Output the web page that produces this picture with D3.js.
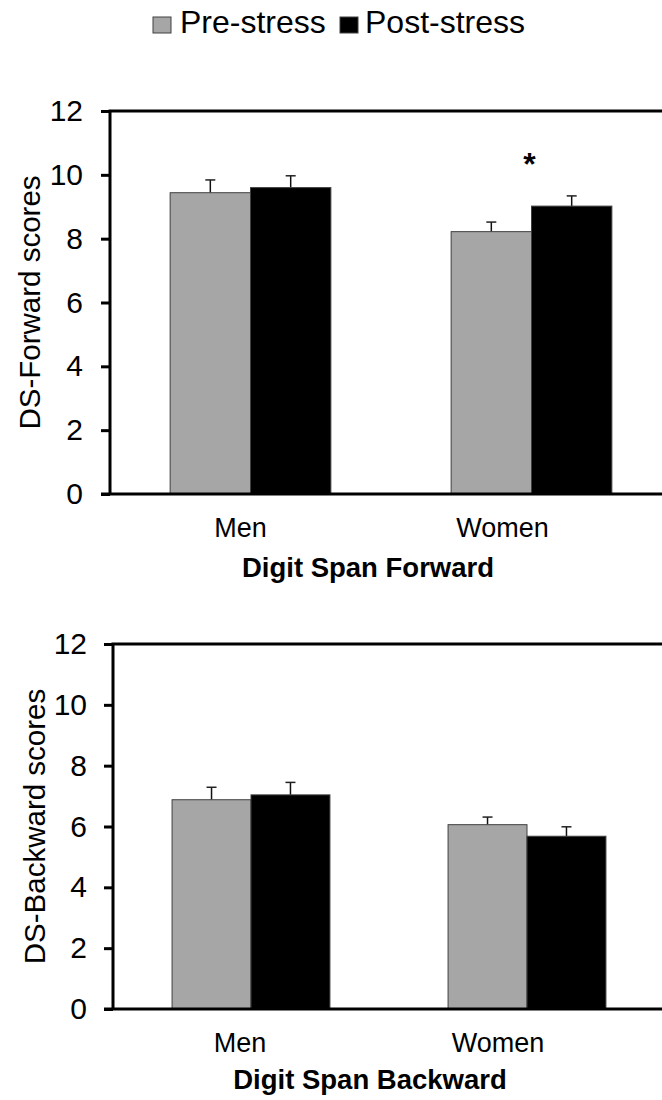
<!DOCTYPE html>
<html>
<head>
<meta charset="utf-8">
<script src="https://cdn.jsdelivr.net/npm/d3@7"></script>
<style>
  body { margin: 0; background: #fff; }
  svg { display: block; font-family: "Liberation Sans", Arial, sans-serif; }
</style>
</head>
<body>
<div id="chart"></div>
<script>
// values
var categories = ["Men", "Women"];
var series = ["Pre-stress", "Post-stress"];
var colors = ["#a6a6a6", "#000000"];
var yTicks = [0, 2, 4, 6, 8, 10, 12];

var fwdPre = [9.44, 8.22];
var fwdPost = [9.60, 9.02];
var fwdPreErr = [0.40, 0.30];
var fwdPostErr = [0.37, 0.32];
var fwdSig = ["Women"];

var bwdPre = [6.88, 6.06];
var bwdPost = [7.04, 5.68];
var bwdPreErr = [0.41, 0.25];
var bwdPostErr = [0.41, 0.31];
var bwdSig = [];

var W = 662, H = 1100;
var svg = d3.select("#chart").append("svg")
  .attr("width", W).attr("height", H);

// legend
var leg = svg.append("g");
var legX = [153, 340], legText = [180, 365];
series.forEach(function(s, i) {
  leg.append("rect")
    .attr("x", legX[i]).attr("y", 17)
    .attr("width", 18).attr("height", 16)
    .attr("fill", colors[i])
    .attr("stroke", "#404040").attr("stroke-width", 1);
  leg.append("text")
    .attr("x", legText[i]).attr("y", 33)
    .attr("font-size", 32)
    .text(s);
});

function drawPanel(p) {
  var g = svg.append("g");
  var y = d3.scaleLinear().domain([0, 12]).range([p.bottom, p.top]);
  var x0 = d3.scaleBand().domain(categories)
    .range([p.left, p.right]).paddingInner(0.428).paddingOuter(0.214);
  var x1 = d3.scaleBand().domain(series).range([0, x0.bandwidth()]);

  var rows = [];
  categories.forEach(function(c, i) {
    rows.push({cat: c, s: series[0], v: p.pre[i], e: p.preErr[i], col: colors[0]});
    rows.push({cat: c, s: series[1], v: p.post[i], e: p.postErr[i], col: colors[1]});
  });

  // error bars (drawn behind bars)
  var eb = g.selectAll(".err").data(rows).enter().append("g");
  eb.append("line")
    .attr("x1", function(d) { return x0(d.cat) + x1(d.s) + x1.bandwidth() / 2; })
    .attr("x2", function(d) { return x0(d.cat) + x1(d.s) + x1.bandwidth() / 2; })
    .attr("y1", function(d) { return y(d.v); })
    .attr("y2", function(d) { return y(d.v + d.e); })
    .attr("stroke", "#111").attr("stroke-width", 1.5);
  eb.append("line")
    .attr("x1", function(d) { return x0(d.cat) + x1(d.s) + x1.bandwidth() / 2 - 5; })
    .attr("x2", function(d) { return x0(d.cat) + x1(d.s) + x1.bandwidth() / 2 + 5; })
    .attr("y1", function(d) { return y(d.v + d.e); })
    .attr("y2", function(d) { return y(d.v + d.e); })
    .attr("stroke", "#222").attr("stroke-width", 1.5);

  g.selectAll(".bar").data(rows).enter().append("rect")
    .attr("x", function(d) { return x0(d.cat) + x1(d.s); })
    .attr("y", function(d) { return y(d.v); })
    .attr("width", x1.bandwidth())
    .attr("height", function(d) { return y(0) - y(d.v); })
    .attr("fill", function(d) { return d.col; })
    .attr("stroke", "#404040").attr("stroke-width", 1);

  // significance marks
  p.sig.forEach(function(c) {
    var top = d3.max(rows.filter(function(d) { return d.cat == c; }),
      function(d) { return d.v + d.e; });
    g.append("text")
      .attr("x", x0(c) + x0.bandwidth() / 2 - 2)
      .attr("y", y(top) - 21)
      .attr("text-anchor", "middle")
      .attr("font-size", 32).attr("font-weight", "bold")
      .text("*");
  });

  // frame: y axis, top line, x axis
  g.append("line").attr("x1", p.left).attr("x2", p.left)
    .attr("y1", p.top).attr("y2", p.bottom)
    .attr("stroke", "#000").attr("stroke-width", 3);
  g.append("line").attr("x1", p.left - 1.5).attr("x2", W)
    .attr("y1", p.top).attr("y2", p.top)
    .attr("stroke", "#000").attr("stroke-width", 3);
  g.append("line").attr("x1", p.left - 9).attr("x2", W)
    .attr("y1", p.bottom).attr("y2", p.bottom)
    .attr("stroke", "#000").attr("stroke-width", 3);

  var yAxis = d3.axisLeft(y).tickValues(yTicks).tickSize(9).tickPadding(p.tickPad);
  var ya = g.append("g").attr("transform", "translate(" + p.left + ",0)").call(yAxis);
  ya.select(".domain").remove();
  ya.selectAll(".tick line").attr("stroke", "#000").attr("stroke-width", 3);
  ya.selectAll(".tick text")
    .attr("font-size", 30).attr("fill", "#000")
    .attr("font-family", "\"Liberation Sans\", Arial, sans-serif");

  g.append("text")
    .attr("transform", "translate(" + p.labelX + "," + (p.top + p.bottom) / 2 + ") rotate(-90)")
    .attr("text-anchor", "middle")
    .attr("font-size", 29.5)
    .text(p.yLabel);

  categories.forEach(function(c, i) {
    g.append("text")
      .attr("x", x0(c) + x0.bandwidth() / 2 + p.catShift[i])
      .attr("y", p.catY)
      .attr("text-anchor", "middle")
      .attr("font-size", 27)
      .text(c);
  });

  g.append("text")
    .attr("x", p.titleX).attr("y", p.titleY)
    .attr("text-anchor", "middle")
    .attr("font-size", 27.5).attr("font-weight", "bold")
    .text(p.title);
}

drawPanel({
  left: 110, right: 672, top: 111, bottom: 494,
  pre: fwdPre, post: fwdPost, preErr: fwdPreErr, postErr: fwdPostErr, sig: fwdSig,
  tickPad: 18, labelX: 40, yLabel: "DS-Forward scores",
  catY: 537, catShift: [-10, -29],
  title: "Digit Span Forward", titleX: 368, titleY: 577
});

drawPanel({
  left: 113, right: 665, top: 644, bottom: 1009,
  pre: bwdPre, post: bwdPost, preErr: bwdPreErr, postErr: bwdPostErr, sig: bwdSig,
  tickPad: 17, labelX: 45, yLabel: "DS-Backward scores",
  catY: 1052, catShift: [-11, -29],
  title: "Digit Span Backward", titleX: 370, titleY: 1089
});
</script>
</body>
</html>
